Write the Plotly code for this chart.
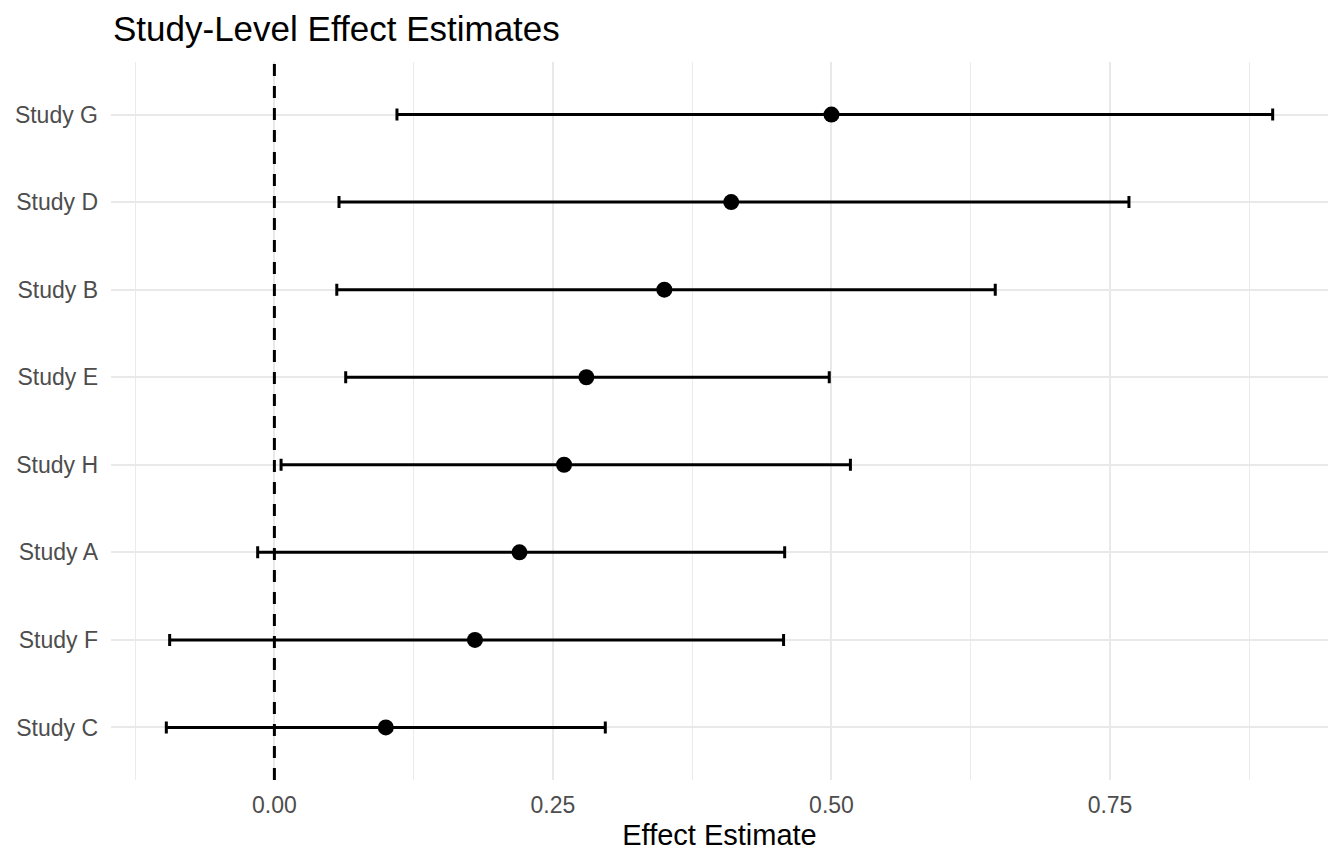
import plotly.graph_objects as go

studies = ["Study C", "Study F", "Study A", "Study H", "Study E", "Study B", "Study D", "Study G"]
estimate = [0.10, 0.18, 0.22, 0.26, 0.28, 0.35, 0.41, 0.50]
lower = [-0.097, -0.094, -0.015, 0.006, 0.064, 0.056, 0.058, 0.110]
upper = [0.297, 0.457, 0.458, 0.517, 0.498, 0.647, 0.767, 0.896]

err_plus = [u - e for u, e in zip(upper, estimate)]
err_minus = [e - l for e, l in zip(estimate, lower)]

W, H = 1336, 856  # page adds an 8px body margin

fig = go.Figure()
fig.add_trace(go.Scatter(
    x=estimate, y=studies, mode="markers",
    marker=dict(color="black", size=16),
    error_x=dict(type="data", symmetric=False, array=err_plus, arrayminus=err_minus,
                 color="black", thickness=3, width=6),
    showlegend=False,
))

fig.add_shape(type="line", xref="x", yref="paper", x0=0, x1=0, y0=0, y1=1,
              line=dict(color="black", width=3, dash="12px,10px"), layer="above")

xmin, xmax = min(lower), max(upper)
pad = (xmax - xmin) * 0.05

fig.update_layout(
    width=W, height=H,
    paper_bgcolor="white", plot_bgcolor="white",
    margin=dict(l=103, r=16, t=54, b=84),
    font=dict(family="Liberation Sans, Arial, sans-serif"),
    title=dict(text="Study-Level Effect Estimates", x=105 / W, xanchor="left",
               xref="container", y=1 - 21 / H, yanchor="middle", yref="container",
               font=dict(size=35, color="black")),
    xaxis=dict(
        range=[xmin - pad, xmax + pad], automargin=False,
        tickvals=[0, 0.25, 0.5, 0.75], ticktext=["0.00", "0.25", "0.50", "0.75"],
        showgrid=True, gridcolor="#e9e9e9", gridwidth=2.4,
        minor=dict(tickvals=[-0.125, 0.125, 0.375, 0.625, 0.875], showgrid=True,
                   gridcolor="#ebebeb", gridwidth=1.3),
        zeroline=False, showline=False, ticks="",
        ticklabelstandoff=9,
        tickfont=dict(size=23, color="#4d4d4d"),
        title=dict(text="Effect Estimate", font=dict(size=29, color="black"), standoff=7),
    ),
    yaxis=dict(
        type="category", categoryorder="array", categoryarray=studies,
        range=[-0.6, len(studies) - 0.4], automargin=False,
        showgrid=True, gridcolor="#e9e9e9", gridwidth=2.4,
        zeroline=False, showline=False, ticks="",
        ticklabelstandoff=12,
        tickfont=dict(size=23, color="#4d4d4d"),
    ),
)

fig.write_html("out.html")
